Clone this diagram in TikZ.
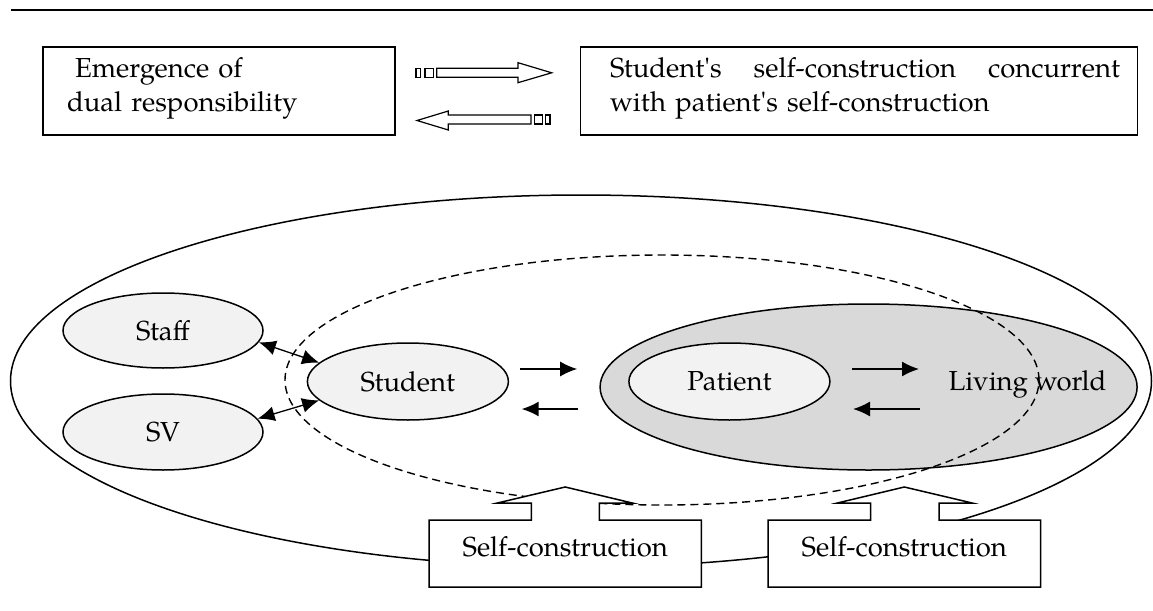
\documentclass[tikz,border=0pt]{standalone}
\usepackage{fontspec}
\setmainfont{TeX Gyre Pagella}
\usetikzlibrary{shapes.geometric,arrows.meta}
\definecolor{lightfill}{HTML}{F2F2F2}
\definecolor{worldfill}{HTML}{D9D9D9}
\begin{document}
\begin{tikzpicture}[x=1pt,y=-1pt,line width=1.5pt,
  font=\fontsize{27.5}{34}\selectfont,
  oval/.style={ellipse,draw,fill=lightfill,inner sep=0pt},
  arr/.style={-{Latex[length=17pt,width=15pt]}},
  darr/.style={{Latex[length=17pt,width=15pt]}-{Latex[length=17pt,width=15pt]},line width=1.3pt},
  blockarr/.style={draw,fill=white,line width=1.2pt},
  plain/.style={inner sep=0pt}]
\useasboundingbox (0,0) rectangle (1153,610);
% top rule
\draw[line width=1.6pt] (11,10) -- (1153,10);
% top boxes
\node[draw,minimum width=352pt,minimum height=88pt,inner sep=0pt] (lbox) at (219,91) {};
\node[plain,text width=304pt,align=left] (ltext) at (219,88)
  {\hspace*{8pt}Emergence of\\dual responsibility};
\node[draw,minimum width=557pt,minimum height=88pt,inner sep=0pt] (rbox) at (858.9,91) {};
\node[plain,text width=510pt,align=left] (rtext) at (865,88)
  {\makebox[510pt][s]{Student\textquotesingle s\hfil self-construction\hfil concurrent}\\with patient\textquotesingle s self-construction};
% block arrows between the boxes
\draw[blockarr] (416,68.3) rectangle (420.7,77.3);
\draw[blockarr] (425,68.3) rectangle (433.3,77.3);
\draw[blockarr] (436.7,68.3) -- (518,68.3) -- (518,62.7) -- (551.7,72.8) -- (518,82.7) -- (518,77.3) -- (436.7,77.3) -- cycle;
\draw[blockarr] (531,115) -- (448.3,115) -- (448.3,111) -- (417,120.5) -- (448.3,130) -- (448.3,124) -- (531,124) -- cycle;
\draw[blockarr] (534.5,115) rectangle (542.5,124);
\draw[blockarr] (545.5,115) rectangle (550,124);
% big shapes
\node[ellipse,draw,minimum width=1141pt,minimum height=372pt,inner sep=0pt] (outer) at (581,381) {};
\node[ellipse,draw,fill=worldfill,minimum width=537pt,minimum height=166pt,inner sep=0pt] (world) at (868.6,387) {};
\node[ellipse,draw,dash pattern=on 8pt off 5pt,line width=1.4pt,minimum width=754pt,minimum height=250pt,inner sep=0pt] (zone) at (662,380) {};
% small ellipses
\node[oval,minimum width=200pt,minimum height=75pt] (staff) at (163,330.5) {Staff};
\node[oval,minimum width=200pt,minimum height=76pt] (sv) at (163,432) {SV};
\node[oval,minimum width=201pt,minimum height=77pt] (student) at (407.9,381.5) {Student};
\node[oval,minimum width=201pt,minimum height=77pt] (patient) at (729.4,381.5) {Patient};
\node[plain] (worldtext) at (1027.5,384) {Living world};
% arrows
\draw[darr] (staff.-7) -- (student.168);
\draw[darr] (sv.8) -- (student.-168);
\coordinate (a1s) at (519.8,369); \coordinate (a1e) at (577.2,369);
\coordinate (a2s) at (578.4,409); \coordinate (a2e) at (521.7,409);
\coordinate (a3s) at (852,369); \coordinate (a3e) at (919,369);
\coordinate (a4s) at (920,409); \coordinate (a4e) at (853,409);
\draw[arr] (a1s) -- (a1e);
\draw[arr] (a2s) -- (a2e);
\draw[arr] (a3s) -- (a3e);
\draw[arr] (a4s) -- (a4e);
% self-construction callouts
\draw[fill=white] (429,520) -- (531.4,520) -- (531.4,503) -- (497.4,503) -- (565.2,487) -- (632.2,503) -- (599.4,503) -- (599.4,520) -- (701.4,520) -- (701.4,587) -- (429,587) -- cycle;
\draw[fill=white] (768,520) -- (870.6,520) -- (870.6,503) -- (837.4,503) -- (904.3,487) -- (972.1,503) -- (939,503) -- (939,520) -- (1040.5,520) -- (1040.5,587) -- (768,587) -- cycle;
\node[plain] (sc1) at (565.2,547) {Self-construction};
\node[plain] (sc2) at (904.3,547) {Self-construction};
\end{tikzpicture}
\end{document}
